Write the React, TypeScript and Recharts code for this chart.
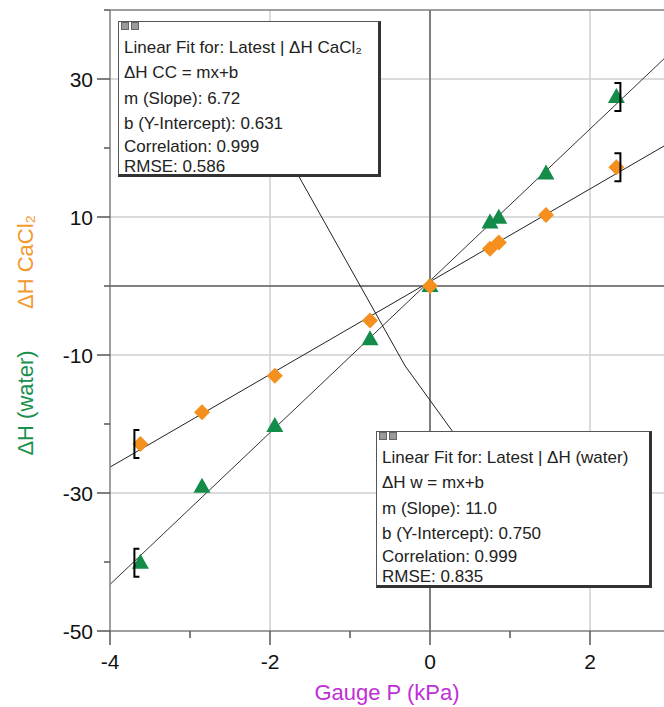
import React from 'react';
import { ComposedChart, Scatter, XAxis, YAxis, ReferenceLine } from 'recharts';

const X_MIN = -4;
const X_MAX = 2.925;
const X_TICKS = [-4, -3, -2, -1, 0, 1, 2];
const X_LABELED = [-4, -2, 0, 2];
const Y_TICKS = [-50, -40, -30, -20, -10, 0, 10, 20, 30, 40];
const Y_LABELED = [-50, -30, -10, 10, 30];
const GRID_X = [-2, 2];
const GRID_Y = [-30, -10, 10, 30];

const PRESSURE = [2.33, 1.45, 0.75, 0.86, 0.0, -0.75, -1.94, -2.85, -3.62];
const DH_WATER = [27.4, 16.3, 9.2, 9.9, 0.0, -7.7, -20.3, -29.1, -40.1];
const DH_CACL2 = [17.2, 10.3, 5.4, 6.3, 0.0, -5.0, -13.0, -18.3, -22.9];

const FIT_WATER = { m: 11.0, b: 0.75 };
const FIT_CACL2 = { m: 6.72, b: 0.631 };

// pointer from the CaCl2 box down to the water box
const POINTER = [
  { x: -1.64, y: 15.9 },
  { x: -0.31, y: -11.6 },
  { x: 0.29, y: -21.2 },
];

const CACL2_BOX = [
  'Linear Fit for: Latest | ΔH CaCl₂',
  'ΔH CC = mx+b',
  'm (Slope): 6.72',
  'b (Y-Intercept): 0.631',
  'Correlation: 0.999',
  'RMSE: 0.586',
];
const WATER_BOX = [
  'Linear Fit for: Latest | ΔH (water)',
  'ΔH w = mx+b',
  'm (Slope): 11.0',
  'b (Y-Intercept): 0.750',
  'Correlation: 0.999',
  'RMSE: 0.835',
];

const FONT = '"Liberation Sans", Arial, sans-serif';
const GREEN = '#138c4a';
const ORANGE = '#f5901e';
const AXIS = '#7f7f7f';
const GRID = '#cfcfcf';

const waterPts = PRESSURE.map((x, i) => ({ x, y: DH_WATER[i] }));
const cacl2Pts = PRESSURE.map((x, i) => ({ x, y: DH_CACL2[i] }));
const last = PRESSURE.length - 1;
const bracketsLeft = [
  { x: PRESSURE[last], y: DH_WATER[last] },
  { x: PRESSURE[last], y: DH_CACL2[last] },
];
const bracketsRight = [
  { x: PRESSURE[0], y: DH_WATER[0] },
  { x: PRESSURE[0], y: DH_CACL2[0] },
];

const fitSegment = (f: { m: number; b: number }) => [
  { x: X_MIN, y: f.m * X_MIN + f.b },
  { x: X_MAX, y: f.m * X_MAX + f.b },
];

const Triangle = (p: any) => (
  <polygon
    points={`${p.cx},${p.cy - 9} ${p.cx + 8.5},${p.cy + 6} ${p.cx - 8.5},${p.cy + 6}`}
    fill={GREEN}
  />
);

const Diamond = (p: any) => (
  <polygon
    points={`${p.cx},${p.cy - 8} ${p.cx + 8},${p.cy} ${p.cx},${p.cy + 8} ${p.cx - 8},${p.cy}`}
    fill={ORANGE}
  />
);

const BracketL = (p: any) => (
  <path
    d={`M${p.cx - 1},${p.cy - 14} H${p.cx - 6} V${p.cy + 14} H${p.cx - 1}`}
    fill="none" stroke="#000" strokeWidth={2}
  />
);

const BracketR = (p: any) => (
  <path
    d={`M${p.cx - 2},${p.cy - 14} H${p.cx + 4} V${p.cy + 14} H${p.cx - 2}`}
    fill="none" stroke="#000" strokeWidth={2}
  />
);

const XTick = (props: any) => {
  const { x, y, payload } = props;
  const major = X_LABELED.includes(payload.value);
  return (
    <g>
      <line x1={x} x2={x} y1={y} y2={y + (major ? 14 : 7)} stroke="#555" strokeWidth={1.5} />
      {major && (
        <text x={x} y={y + 30} dy="0.36em" textAnchor="middle" fontSize={21} fontFamily={FONT} fill="#111">
          {payload.value}
        </text>
      )}
    </g>
  );
};

const YTick = (props: any) => {
  const { x, y, payload } = props;
  const major = Y_LABELED.includes(payload.value);
  return (
    <g>
      <line x1={x - (major ? 13 : 6)} x2={x} y1={y} y2={y} stroke="#555" strokeWidth={1.5} />
      {major && (
        <text x={x - 17} y={y} dy="0.36em" textAnchor="end" fontSize={21} fontFamily={FONT} fill="#111">
          {payload.value}
        </text>
      )}
    </g>
  );
};

const YTitles = () => (
  <g fontFamily={FONT} fontSize={22}>
    <text x={25} y={262} dy="0.35em" textAnchor="middle" fill="#f29a30" transform="rotate(-90, 25, 262)">
      ΔH CaCl₂
    </text>
    <text x={25} y={403} dy="0.35em" textAnchor="middle" fill="#1a9050" transform="rotate(-90, 25, 403)">
      ΔH (water)
    </text>
  </g>
);

const LINE_TOPS = [16, 41, 67, 92, 115, 135];

const FitBox: React.FC<{ left: number; top: number; width: number; height: number; lines: string[] }> = ({
  left, top, width, height, lines,
}) => (
  <div
    style={{
      position: 'absolute', left, top, width, height, boxSizing: 'border-box',
      background: '#fff', border: '1px solid #555', borderRightWidth: 3, borderBottomWidth: 3,
      borderRightColor: '#333', borderBottomColor: '#333', fontFamily: FONT, color: '#222',
    }}
  >
    <div style={{ position: 'absolute', left: 2, top: 0, width: 8, height: 8, background: '#9a9a9a', border: '1px solid #666', boxSizing: 'border-box' }} />
    <div style={{ position: 'absolute', left: 12, top: 0, width: 8, height: 8, background: '#9a9a9a', border: '1px solid #666', boxSizing: 'border-box' }} />
    {lines.map((t, i) => (
      <div key={i} style={{ position: 'absolute', left: 5, top: LINE_TOPS[i], fontSize: 17, lineHeight: '20px', whiteSpace: 'nowrap' }}>
        {t}
      </div>
    ))}
  </div>
);

const App: React.FC = () => {
  return (
    <div style={{ position: 'absolute', left: 0, top: 0, width: 664, height: 707, background: '#fff' }}>
      <ComposedChart width={664} height={707} margin={{ top: 10, right: 0, bottom: 0, left: 0 }}>
        <XAxis
          type="number"
          dataKey="x"
          domain={[X_MIN, X_MAX]}
          ticks={X_TICKS}
          height={76}
          allowDataOverflow
          axisLine={{ stroke: AXIS, strokeWidth: 1.5 }}
          tickLine={false}
          tickSize={0}
          tickMargin={0}
          tick={<XTick />}
          interval={0}
          label={{ value: 'Gauge P (kPa)', position: 'insideBottom', offset: 7, fill: '#bf2fd6', fontSize: 22, fontFamily: FONT }}
        />
        <YAxis
          type="number"
          dataKey="y"
          domain={[-50, 40]}
          ticks={Y_TICKS}
          width={110}
          allowDataOverflow
          axisLine={{ stroke: AXIS, strokeWidth: 1.5 }}
          tickLine={false}
          tickSize={0}
          tickMargin={0}
          tick={<YTick />}
          interval={0}
          label={<YTitles />}
        />

        {GRID_X.map(v => (
          <ReferenceLine key={`gx${v}`} x={v} stroke={GRID} strokeWidth={1.5} />
        ))}
        {GRID_Y.map(v => (
          <ReferenceLine key={`gy${v}`} y={v} stroke={GRID} strokeWidth={1.5} />
        ))}
        <ReferenceLine y={40} stroke={AXIS} strokeWidth={1.5} />
        <ReferenceLine x={0} stroke={AXIS} strokeWidth={2} />
        <ReferenceLine y={0} stroke={AXIS} strokeWidth={2} />

        <ReferenceLine segment={[POINTER[0], POINTER[1]]} stroke="#222" strokeWidth={1} ifOverflow="visible" />
        <ReferenceLine segment={[POINTER[1], POINTER[2]]} stroke="#222" strokeWidth={1} ifOverflow="visible" />

        <Scatter data={waterPts} dataKey="y" shape={<Triangle />} isAnimationActive={false} />
        <Scatter data={cacl2Pts} dataKey="y" shape={<Diamond />} isAnimationActive={false} />
        <Scatter data={bracketsLeft} dataKey="y" shape={<BracketL />} isAnimationActive={false} />
        <Scatter data={bracketsRight} dataKey="y" shape={<BracketR />} isAnimationActive={false} />

        <ReferenceLine segment={fitSegment(FIT_WATER)} stroke="#333" strokeWidth={1} ifOverflow="visible" />
        <ReferenceLine segment={fitSegment(FIT_CACL2)} stroke="#222" strokeWidth={1} ifOverflow="visible" />
      </ComposedChart>

      <FitBox left={118} top={21} width={263} height={156} lines={CACL2_BOX} />
      <FitBox left={376} top={431} width={276} height={157} lines={WATER_BOX} />
    </div>
  );
};

export default App;
